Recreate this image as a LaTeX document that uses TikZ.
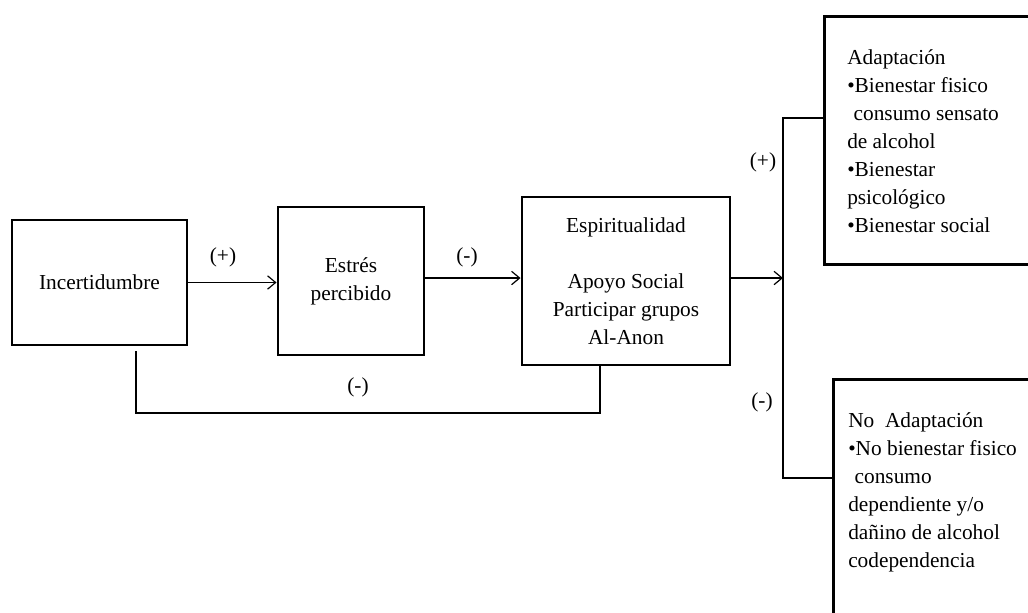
\documentclass[tikz,border=0pt]{standalone}
\usepackage{fontspec}
\setmainfont{Liberation Serif}
\usetikzlibrary{arrows.meta}
\begin{document}
\begin{tikzpicture}[x=0.75pt,y=-0.75pt,
  box/.style={draw, line width=2.2pt, inner sep=0pt, align=center},
  conn/.style={draw, line width=0.9pt},
  arr/.style={conn, -{Straight Barb[length=6pt,width=10pt,line width=0.9pt]}},
  txt/.style={font=\fontsize{16}{21}\selectfont},
  lbl/.style={font=\fontsize{16}{21}\selectfont, inner sep=0pt}]
\useasboundingbox (0,0) rectangle (1028,612);
\clip (0,0) rectangle (1028,612);
\fill[white] (0,0) rectangle (1028,612);

\node[box, txt, minimum width=131.25pt, minimum height=93.75pt] (inc) at (99.5,282.5) {Incertidumbre};
\node[box, txt, minimum width=109.5pt, minimum height=111pt] (est) at (351,281) {Estrés\\percibido};
\node[box, txt, minimum width=156pt, minimum height=126pt] (esp) at (626,281) {Espiritualidad\\[21pt]Apoyo Social\\Participar grupos\\Al-Anon};

\node[box, anchor=north west, minimum width=165pt, minimum height=186pt] (adapt) at (823,15) {};
\node[txt, anchor=north west, align=left, inner sep=0pt] (adapttxt) at (847,49) {Adaptación\\•Bienestar fisico\\\hspace*{0.3em}consumo sensato\\de alcohol\\•Bienestar\\psicológico\\•Bienestar social};

\node[box, anchor=north west, minimum width=160pt, minimum height=250pt] (noad) at (832,378) {};
\node[txt, anchor=north west, align=left, inner sep=0pt] (noadtxt) at (848,412) {No\hspace*{0.5em}Adaptación\\•No bienestar fisico\\\hspace*{0.3em}consumo\\dependiente y/o\\dañino de alcohol\\codependencia};

\node[lbl] (l1) at (223,257) {(+)};
\node[lbl] (l2) at (467,257) {(-)};
\node[lbl] (l3) at (358,387) {(-)};
\node[lbl] (l4) at (763,162) {(+)};
\node[lbl] (l5) at (762,402) {(-)};

\draw[arr] (inc.east) -- (inc.east -| est.west);
\draw[arr] ([yshift=2.25pt]est.east) -- ([yshift=2.25pt]est.east -| esp.west);
\coordinate (split) at (783,278);
\draw[arr] (esp.east |- split) -- (split);
\coordinate (top) at (783,118);
\coordinate (bot) at (783,478);
\draw[conn] (adapt.west |- top) -- (top) -- (bot) -- (noad.west |- bot);
\coordinate (fbL) at (136,413);
\coordinate (fbR) at (600,413);
\draw[conn] (fbL |- inc.south) ++(0,5) -- (fbL) -- (fbR) -- (fbR |- esp.south);
\end{tikzpicture}
\end{document}
